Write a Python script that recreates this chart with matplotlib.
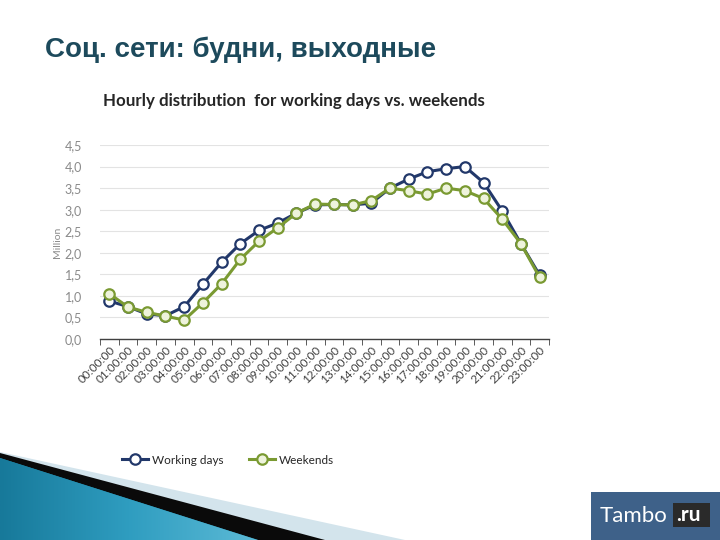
import matplotlib
matplotlib.use("Agg")
import matplotlib.pyplot as plt
import numpy as np
from matplotlib.patches import Polygon, Rectangle

# hourly data, million users
hours = ["%02d:00:00" % h for h in range(24)]
working_days = [0.88, 0.75, 0.58, 0.54, 0.75, 1.27, 1.78, 2.21, 2.52, 2.69, 2.92, 3.11,
                3.12, 3.11, 3.15, 3.50, 3.71, 3.88, 3.95, 4.00, 3.63, 2.97, 2.21, 1.48]
weekends = [1.05, 0.74, 0.62, 0.53, 0.44, 0.84, 1.28, 1.85, 2.27, 2.58, 2.92, 3.13,
            3.12, 3.11, 3.21, 3.50, 3.44, 3.36, 3.50, 3.44, 3.26, 2.78, 2.21, 1.43]
y_ticks = [0.0, 0.5, 1.0, 1.5, 2.0, 2.5, 3.0, 3.5, 4.0, 4.5]

W, H = 720, 540

def main():
    fig = plt.figure(figsize=(7.2, 5.4), dpi=100)
    fig.patch.set_facecolor("white")

    # slide decoration, bottom left wedge
    deco = fig.add_axes([0, 0, 1, 1], zorder=0)
    deco.set_xlim(0, W)
    deco.set_ylim(H, 0)
    deco.axis("off")
    deco.add_patch(Polygon([(0, 452), (405, 540), (0, 540)], closed=True, color="#d3e4ec", lw=0))
    deco.add_patch(Polygon([(0, 453), (325, 540), (0, 540)], closed=True, color="#0a0a0a", lw=0))
    wedge = Polygon([(0, 458), (258, 540), (0, 540)], closed=True, color="#1d86a6", lw=0)
    deco.add_patch(wedge)
    # horizontal gradient dark teal -> light blue, clipped to the wedge
    grad = np.linspace(0, 1, 256).reshape(1, -1)
    from matplotlib.colors import LinearSegmentedColormap
    cmap = LinearSegmentedColormap.from_list("teal", ["#17799a", "#2f9dc0", "#5cbad6"])
    img = deco.imshow(grad, cmap=cmap, extent=(0, 258, 540, 458), aspect="auto",
                      interpolation="bilinear", zorder=2)
    img.set_clip_path(wedge)
    deco.set_xlim(0, W)
    deco.set_ylim(H, 0)

    # Tambo.ru badge
    deco.add_patch(Rectangle((591, 492), 129, 48, color="#3e6189", lw=0, zorder=3))
    deco.add_patch(Rectangle((673, 503), 37, 24, color="#2a2a2a", lw=0, zorder=3))
    deco.text(600, 516, "Tambo", color="white", fontsize=16, va="center", ha="left",
              family="Lato", zorder=4)
    deco.text(676, 515, ".ru", color="white", fontsize=15, va="center", ha="left",
              family="Lato", fontweight="bold", zorder=4)

    # slide title
    fig.text(45 / W, 1 - 50 / H, "Соц. сети: будни, выходные", fontsize=20,
             fontweight="bold", color="#1d4a5c", family="Liberation Sans", va="center")
    # chart title
    fig.text(103 / W, 1 - 101 / H, "Hourly distribution  for working days vs. weekends",
             fontsize=12.2, fontweight="bold", color="#262626", family="Lato", va="center")

    ax = fig.add_axes([100 / W, 1 - 339 / H, 449 / W, 194 / H], zorder=1)
    ax.patch.set_alpha(0)
    x = list(range(len(hours)))
    ax.plot(x, working_days, color="#22386a", lw=2.2, marker="o", ms=7.5,
            mfc="white", mec="#22386a", mew=1.6, label="Working days", zorder=3)
    ax.plot(x, weekends, color="#7a9a32", lw=2.2, marker="o", ms=7.5,
            mfc="#eef3dc", mec="#7a9a32", mew=1.6, label="Weekends", zorder=4)

    ax.set_xlim(-0.5, 23.5)
    ax.set_ylim(0, 4.5)
    ax.set_yticks(y_ticks)
    ax.set_yticklabels([("%.1f" % v).replace(".", ",") for v in y_ticks],
                       color="#8a8a8a", fontsize=9, family="Lato")
    ax.yaxis.grid(True, color="#e3e3e3", lw=0.8)
    ax.set_axisbelow(True)
    ax.tick_params(axis="y", length=0, pad=13)

    ax.set_xticks([i - 0.5 for i in range(25)], minor=True)
    ax.set_xticks(x)
    ax.set_xticklabels(hours, rotation=45, ha="right", rotation_mode="anchor",
                       fontsize=8.5, family="Lato", color="#404040")
    ax.tick_params(axis="x", which="major", length=0, pad=4)
    ax.tick_params(axis="x", which="minor", length=4, color="#404040", direction="out")

    for side in ["top", "right", "left"]:
        ax.spines[side].set_visible(False)
    ax.spines["bottom"].set_color("#404040")
    ax.spines["bottom"].set_linewidth(1.0)

    ax.set_ylabel("Million", fontsize=7.5, color="#8a8a8a", family="Lato", labelpad=2)

    leg = fig.legend(loc="center", bbox_to_anchor=(228 / W, 1 - 460 / H), ncol=2,
                     frameon=False, prop={"family": "Lato", "size": 8.5},
                     handlelength=2.2, columnspacing=2.2, handletextpad=0.3)
    for t in leg.get_texts():
        t.set_color("#262626")

    fig.savefig("out.png", dpi=100)

if __name__ == "__main__":
    main()
